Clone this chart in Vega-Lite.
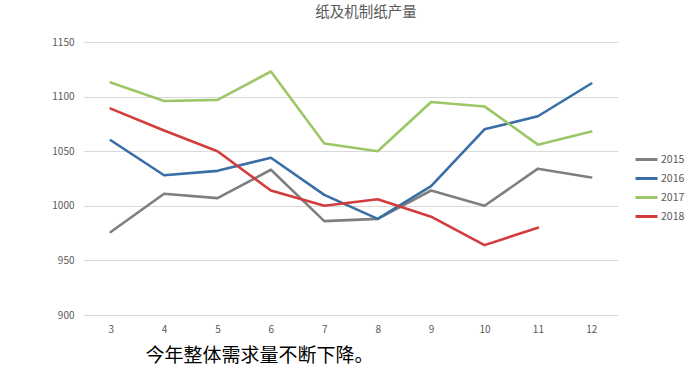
{
  "$schema": "https://vega.github.io/schema/vega-lite/v6.json",
  "width": 534,
  "height": 273,
  "autosize": {"type": "none"},
  "padding": {"left": 84, "top": 42, "right": 81, "bottom": 69},
  "background": "white",
  "config": {
    "font": "Noto Sans CJK SC",
    "view": {"stroke": null}
  },
  "title": {
    "text": "纸及机制纸产量",
    "fontSize": 14.5,
    "fontWeight": "normal",
    "color": "#595959",
    "anchor": "middle",
    "dx": 15,
    "offset": 17
  },
  "data": {
    "values": [
      {"month": 3, "year": "2015", "value": 976},
      {"month": 4, "year": "2015", "value": 1011},
      {"month": 5, "year": "2015", "value": 1007},
      {"month": 6, "year": "2015", "value": 1033},
      {"month": 7, "year": "2015", "value": 986},
      {"month": 8, "year": "2015", "value": 988},
      {"month": 9, "year": "2015", "value": 1014},
      {"month": 10, "year": "2015", "value": 1000},
      {"month": 11, "year": "2015", "value": 1034},
      {"month": 12, "year": "2015", "value": 1026},
      {"month": 3, "year": "2016", "value": 1060},
      {"month": 4, "year": "2016", "value": 1028},
      {"month": 5, "year": "2016", "value": 1032},
      {"month": 6, "year": "2016", "value": 1044},
      {"month": 7, "year": "2016", "value": 1010},
      {"month": 8, "year": "2016", "value": 988},
      {"month": 9, "year": "2016", "value": 1018},
      {"month": 10, "year": "2016", "value": 1070},
      {"month": 11, "year": "2016", "value": 1082},
      {"month": 12, "year": "2016", "value": 1112},
      {"month": 3, "year": "2017", "value": 1113},
      {"month": 4, "year": "2017", "value": 1096},
      {"month": 5, "year": "2017", "value": 1097},
      {"month": 6, "year": "2017", "value": 1123},
      {"month": 7, "year": "2017", "value": 1057},
      {"month": 8, "year": "2017", "value": 1050},
      {"month": 9, "year": "2017", "value": 1095},
      {"month": 10, "year": "2017", "value": 1091},
      {"month": 11, "year": "2017", "value": 1056},
      {"month": 12, "year": "2017", "value": 1068},
      {"month": 3, "year": "2018", "value": 1089},
      {"month": 4, "year": "2018", "value": 1069},
      {"month": 5, "year": "2018", "value": 1050},
      {"month": 6, "year": "2018", "value": 1014},
      {"month": 7, "year": "2018", "value": 1000},
      {"month": 8, "year": "2018", "value": 1006},
      {"month": 9, "year": "2018", "value": 990},
      {"month": 10, "year": "2018", "value": 964},
      {"month": 11, "year": "2018", "value": 980}
    ]
  },
  "mark": {"type": "line", "strokeWidth": 2.6, "strokeCap": "round", "strokeJoin": "round"},
  "encoding": {
    "x": {
      "field": "month",
      "type": "ordinal",
      "scale": {"type": "point", "padding": 0.5},
      "axis": {
        "title": "今年整体需求量不断下降。",
        "titleFontSize": 19,
        "titleFontWeight": "normal",
        "titleColor": "#000000",
        "titleAnchor": "start",
        "titleAlign": "left",
        "titleBaseline": "top",
        "titleX": 61,
        "titleY": 31,
        "labelAngle": 0,
        "labelFontSize": 10,
        "labelColor": "#595959",
        "labelPadding": 9,
        "domain": false,
        "ticks": false,
        "grid": false
      }
    },
    "y": {
      "field": "value",
      "type": "quantitative",
      "scale": {"domain": [900, 1150], "nice": false, "zero": false},
      "axis": {
        "title": null,
        "format": "d",
        "values": [900, 950, 1000, 1050, 1100, 1150],
        "labelFontSize": 10,
        "labelColor": "#595959",
        "labelPadding": 10,
        "domain": false,
        "ticks": false,
        "grid": true,
        "gridColor": "#d9d9d9",
        "gridWidth": 1
      }
    },
    "color": {
      "field": "year",
      "type": "nominal",
      "scale": {
        "domain": ["2015", "2016", "2017", "2018"],
        "range": ["#7f7f7f", "#3a6ea6", "#9cc766", "#d23c3c"]
      },
      "legend": {
        "title": null,
        "orient": "none",
        "legendX": 550,
        "legendY": 105,
        "symbolType": "stroke",
        "symbolSize": 484,
        "symbolStrokeWidth": 3,
        "labelFontSize": 10.5,
        "labelColor": "#595959",
        "labelOffset": 2,
        "rowPadding": 0,
        "padding": 0
      }
    }
  }
}
